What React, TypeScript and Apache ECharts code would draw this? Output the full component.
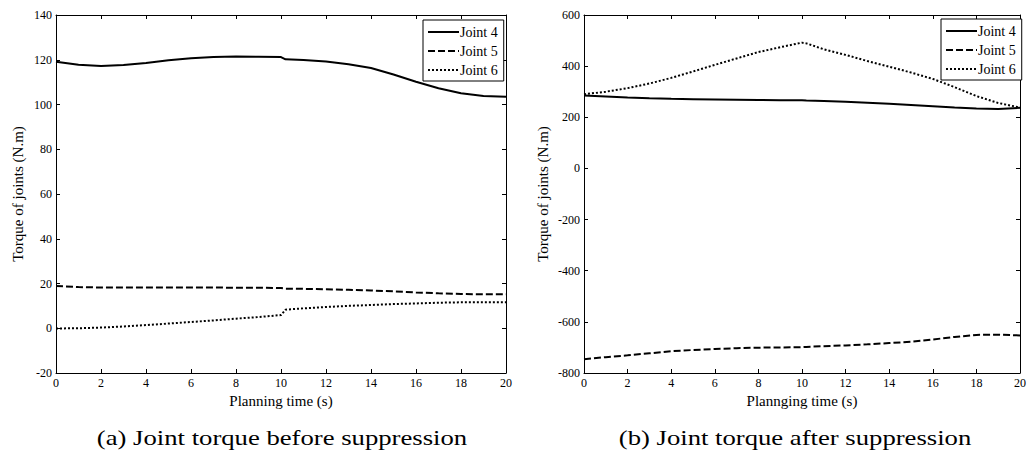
import React, { useEffect, useRef } from "react";
import * as echarts from "echarts";

const times = [0, 1, 2, 3, 4, 5, 6, 7, 8, 9, 10, 10.2, 11, 12, 13, 14, 15, 16, 17, 18, 19, 20];
const xTicksMin = 0;
const xTicksMax = 20;
const xInterval = 2;

const beforeJoint4 = [119.1, 117.8, 117.2, 117.6, 118.6, 119.8, 120.7, 121.2, 121.4, 121.3, 121.2, 120.2, 119.9, 119.2, 118.0, 116.3, 113.4, 110.2, 107.3, 105.0, 103.8, 103.5];
const beforeJoint5 = [18.9, 18.4, 18.2, 18.2, 18.2, 18.2, 18.2, 18.2, 18.1, 18.1, 18.0, 17.7, 17.6, 17.4, 17.2, 16.9, 16.5, 16.0, 15.6, 15.3, 15.2, 15.2];
const beforeJoint6 = [-0.1, 0, 0.3, 0.8, 1.4, 2.1, 2.8, 3.5, 4.3, 5.0, 5.9, 8.3, 8.9, 9.5, 10.0, 10.4, 10.8, 11.1, 11.4, 11.6, 11.6, 11.6];

const afterJoint4 = [285, 281, 277, 274, 272, 271, 270, 269, 268, 267, 267, 266, 264, 261, 257, 253, 248, 243, 238, 234, 232, 237];
const afterJoint5 = [-746, -738, -731, -723, -715, -710, -706, -703, -701, -700, -699, -698, -695, -692, -688, -683, -678, -669, -659, -651, -650, -653];
const afterJoint6 = [290, 300, 314, 332, 354, 379, 405, 430, 455, 474, 492, 489, 466, 444, 420, 398, 375, 350, 318, 283, 256, 238];

const seriesNames = ["Joint 4", "Joint 5", "Joint 6"];
const beforeRange = { min: -20, max: 140, interval: 20 };
const afterRange = { min: -800, max: 600, interval: 200 };

const xNameA = "Planning time (s)";
const xNameB = "Plannging time (s)";
const yName = "Torque of joints (N.m)";
const captionA = "(a) Joint torque before suppression";
const captionB = "(b) Joint torque after suppression";

const FONT = "Liberation Serif";

const lineStyles = [
  { type: "solid" as const },
  { type: [7, 3] as any },
  { type: [2, 2] as any },
];

function pairs(vals: number[]) {
  return times.map((t, i) => [t, vals[i]]);
}

export default function App() {
  const ref = useRef<HTMLDivElement>(null);
  useEffect(() => {
    if (!ref.current) return;
    const chart = echarts.init(ref.current, null, { renderer: "svg" });

    const tick = { show: true, inside: true, length: 4, lineStyle: { color: "#000", width: 1 } };
    const line = { show: true, onZero: false, lineStyle: { color: "#000", width: 1 } };
    const label = { color: "#000", fontSize: 12, fontFamily: FONT, margin: 4 };
    const nameStyle = { color: "#000", fontSize: 15, fontFamily: FONT };

    const mkX = (grid: number, name: string) => [
      {
        type: "value", gridIndex: grid, position: "bottom", min: xTicksMin, max: xTicksMax, interval: xInterval,
        axisLine: line, axisTick: tick, axisLabel: label, splitLine: { show: false },
        name, nameLocation: "middle", nameGap: 20, nameTextStyle: nameStyle,
      },
      {
        type: "value", gridIndex: grid, position: "top", min: xTicksMin, max: xTicksMax, interval: xInterval,
        axisLine: line, axisTick: tick, axisLabel: { show: false }, splitLine: { show: false },
      },
    ];
    const mkY = (grid: number, r: { min: number; max: number; interval: number }, gap: number) => [
      {
        type: "value", gridIndex: grid, position: "left", min: r.min, max: r.max, interval: r.interval,
        axisLine: line, axisTick: tick, axisLabel: label, splitLine: { show: false },
        name: yName, nameLocation: "middle", nameGap: gap, nameRotate: 90, nameTextStyle: nameStyle,
      },
      {
        type: "value", gridIndex: grid, position: "right", min: r.min, max: r.max, interval: r.interval,
        axisLine: line, axisTick: tick, axisLabel: { show: false }, splitLine: { show: false },
      },
    ];

    const mkSeries = (data: number[][], xi: number, yi: number) =>
      data.map((d, i) => ({
        type: "line",
        name: seriesNames[i],
        xAxisIndex: xi,
        yAxisIndex: yi,
        data: pairs(d),
        symbol: "none",
        showSymbol: false,
        lineStyle: { color: "#000", width: 2, ...lineStyles[i] },
        itemStyle: { color: "#000" },
      }));

    const legendBase = {
      orient: "vertical",
      data: seriesNames,
      itemWidth: 31,
      itemHeight: 12,
      itemGap: 5,
      borderColor: "#000",
      borderWidth: 1,
      backgroundColor: "#fff",
      padding: [5, 6, 4, 4],
      itemStyle: { opacity: 0, color: "transparent", borderWidth: 0 },
      textStyle: { color: "#000", fontSize: 14, fontFamily: FONT, padding: [0, 0, 0, -4] },
    };

    chart.setOption({
      animation: false,
      backgroundColor: "#fff",
      grid: [
        { left: 56, top: 15, width: 450, height: 358, containLabel: false },
        { left: 584, top: 15, width: 440, height: 358, containLabel: false },
      ],
      xAxis: [...mkX(0, xNameA), ...mkX(1, xNameB)],
      yAxis: [...mkY(0, beforeRange, 31), ...mkY(1, afterRange, 34)],
      legend: [
        { ...legendBase, left: 423, top: 20 },
        { ...legendBase, left: 941, top: 19 },
      ],
      series: [
        ...mkSeries([beforeJoint4, beforeJoint5, beforeJoint6], 0, 0),
        ...mkSeries([afterJoint4, afterJoint5, afterJoint6], 2, 2),
      ],
      graphic: [
        {
          type: "text", x: 282, y: 438, scaleX: 1.27,
          style: { text: captionA, fontSize: 21, fontFamily: FONT, fill: "#000", textAlign: "center", textVerticalAlign: "middle" },
        },
        {
          type: "text", x: 795, y: 438, scaleX: 1.27,
          style: { text: captionB, fontSize: 21, fontFamily: FONT, fill: "#000", textAlign: "center", textVerticalAlign: "middle" },
        },
      ],
    });
    return () => chart.dispose();
  }, []);
  return (
    <div
      ref={ref}
      style={{ position: "absolute", left: 0, top: 0, width: 1029, height: 451 }}
    />
  );
}
